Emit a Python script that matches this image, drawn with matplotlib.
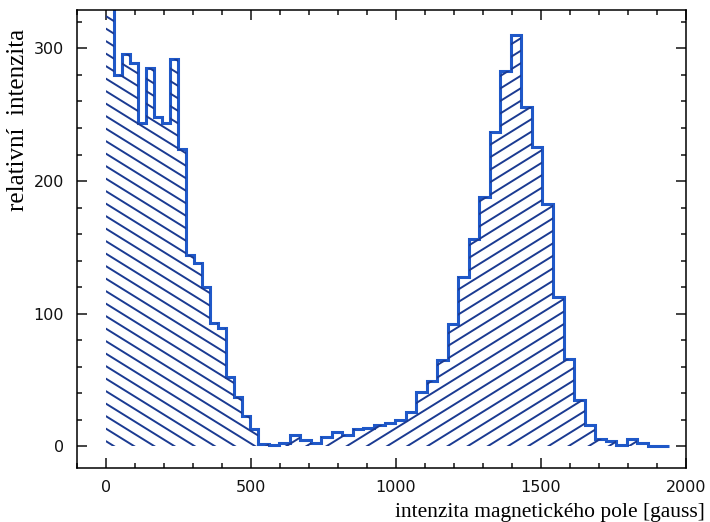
import numpy as np
import matplotlib
matplotlib.use("Agg")
import matplotlib.pyplot as plt
from matplotlib.collections import LineCollection
from matplotlib.ticker import MultipleLocator

# low-field part of the histogram (narrow bins starting at 0 gauss)
low_width = 27.66
low_counts = [340, 280, 296, 289, 244, 285, 248, 244, 292, 224,
              144, 138, 120, 93, 89, 52, 37, 23, 13]

# high-field part (wider bins, continues up to ~1940 gauss)
high_width = 36.3
high_counts = [2, 1, 3, 9, 5, 3, 7, 11, 9, 13,
               14, 16, 18, 20, 26, 41, 49, 65, 92, 128,
               156, 188, 237, 283, 310, 256, 226, 183, 113, 66,
               35, 16, 6, 4, 1, 6, 3, 0.5, 0.5]

x_ticks = [0, 500, 1000, 1500, 2000]
y_ticks = [0, 100, 200, 300]
xlabel = "intenzita magnetického pole [gauss]"
ylabel = "relativní  intenzita"

LINE_COLOR = "#1f58c8"
HATCH_COLOR = "#1b3b92"
HATCH_SLOPE = 0.62   # pixel slope of hatch lines
HATCH_GAP = 12.5     # vertical distance between hatch lines, pixels

low_edges = np.arange(len(low_counts) + 1) * low_width
high_edges = low_edges[-1] + np.arange(len(high_counts) + 1) * high_width
edges = np.concatenate([low_edges, high_edges[1:]])
counts = np.array(low_counts + high_counts, dtype=float)

fig = plt.figure(figsize=(7.1, 5.22), dpi=100)
ax = fig.add_axes([0.108, 0.104, 0.858, 0.877])
ax.set_xlim(-100, 2000)
ax.set_ylim(-16, 329)


def hatch(ax, vals, edg, direction):
    # draw slanted hatching clipped to the histogram area
    region = ax.stairs(vals, edg, baseline=0, fill=True,
                       facecolor="none", edgecolor="none")
    pos = ax.get_position()
    ppx = fig.get_figwidth() * fig.dpi * pos.width / np.ptp(ax.get_xlim())
    ppy = fig.get_figheight() * fig.dpi * pos.height / np.ptp(ax.get_ylim())
    slope = direction * HATCH_SLOPE * ppx / ppy
    step = HATCH_GAP / ppy
    x0, x1 = edg[0], edg[-1]
    span = abs(slope) * (x1 - x0)
    offsets = np.arange(-span - step, max(vals) + span + step, step)
    segs = [[(x0, c), (x1, c + slope * (x1 - x0))] for c in offsets]
    lc = LineCollection(segs, colors=HATCH_COLOR, linewidths=1.4)
    ax.add_collection(lc, autolim=False)
    lc.set_clip_path(region)


hatch(ax, np.array(low_counts, float), low_edges, -1)
hatch(ax, np.array(high_counts, float), high_edges, 1)
ax.stairs(counts, edges, baseline=None, color=LINE_COLOR, linewidth=2.2)

ax.set_xticks(x_ticks)
ax.set_yticks(y_ticks)
ax.xaxis.set_minor_locator(MultipleLocator(100))
ax.yaxis.set_minor_locator(MultipleLocator(20))
ax.tick_params(which="both", direction="in", top=True, right=True,
               width=1.1, labelsize=11.5, pad=9, colors="#111111")
ax.tick_params(which="major", length=7)
ax.tick_params(which="minor", length=3.5)
for s in ax.spines.values():
    s.set_linewidth(1.1)

fig.text(0.993, 0.019, xlabel, ha="right", va="center",
         family="Liberation Serif", fontsize=15.5)
fig.text(0.026, 0.77, ylabel, ha="center", va="center", rotation=90,
         family="Liberation Serif", fontsize=18)

ax.set_xlim(-100, 2000)
ax.set_ylim(-16, 329)
fig.savefig("out.png", dpi=100)
